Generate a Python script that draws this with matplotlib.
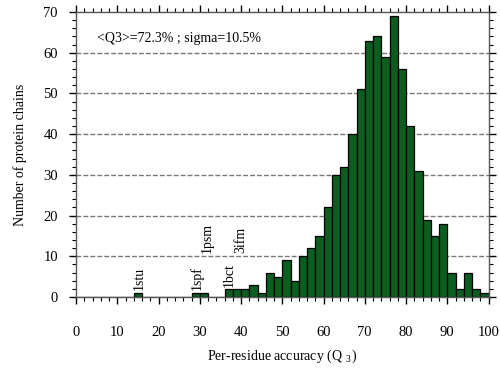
import matplotlib
matplotlib.use("Agg")
import matplotlib.pyplot as plt
import numpy as np

plt.rcParams['font.family'] = ['Liberation Serif', 'DejaVu Serif']
plt.rcParams['mathtext.fontset'] = 'custom'
plt.rcParams['mathtext.rm'] = 'Liberation Serif'
plt.rcParams['mathtext.it'] = 'Liberation Serif:italic'

# Histogram bins (left edges, width 2) and counts
bin_lefts = list(range(0, 100, 2))
counts = [0, 0, 0, 0, 0, 0, 0, 1, 0, 0,
          0, 0, 0, 0, 1, 1, 0, 0, 2, 2,
          2, 3, 1, 6, 5, 9, 4, 10, 12, 15,
          22, 30, 32, 40, 51, 63, 64, 59, 69, 56,
          42, 31, 19, 15, 18, 6, 2, 6, 2, 1]

# Labelled outlier chains: (name, x, y)
label_names = ['1stu', '1spf', '1psm', '1bct', '3ifm']
label_x = [15.3, 29.2, 31.8, 37.2, 40.0]
label_y = [1.7, 1.7, 10.7, 2.4, 10.7]

x_ticks = list(range(0, 101, 10))
y_ticks = list(range(0, 71, 10))
grid_levels = [10, 20, 30, 40, 50, 60]
stats_text = '<Q3>=72.3% ; sigma=10.5%'

fig = plt.figure(figsize=(5.0, 3.71), dpi=100)
ax = fig.add_axes([0.152, 0.1995, 0.825, 0.768])

for g in grid_levels:
    ax.axhline(g, color='#777777', lw=1.0, ls=(0, (3.5, 1.5)), zorder=1)

ax.bar(bin_lefts, counts, width=2, align='edge', color='#0b5e1e',
       edgecolor='black', linewidth=0.9, zorder=2)

for n, x, y in zip(label_names, label_x, label_y):
    ax.text(x, y, n, rotation=90, ha='center', va='bottom', fontsize=10, zorder=3)

ax.text(5.0, 63.5, stats_text, fontsize=10, ha='left', va='center')

ax.set_xlim(0, 100)
ax.set_ylim(0, 70)
ax.set_xticks(x_ticks)
ax.set_yticks(y_ticks)
ax.set_xticks(np.arange(0, 101, 2), minor=True)
ax.set_yticks(np.arange(0, 71, 2), minor=True)

for s in ax.spines.values():
    s.set_color('#555555')
    s.set_linewidth(1.0)

ax.tick_params(axis='both', which='both', top=True, right=True,
               direction='out', colors='black', labelsize=10.5)
ax.tick_params(axis='x', which='major', length=5, width=1.0, pad=16)
ax.tick_params(axis='x', which='minor', length=3, width=0.8)
ax.tick_params(axis='y', which='major', length=5, width=1.0, pad=8)
ax.tick_params(axis='y', which='minor', length=3, width=0.8)

ax.set_xlabel('Per-residue accuracy (Q$_{\\ \\ 3}$)', fontsize=10, labelpad=6)
ax.set_ylabel('Number of protein chains', fontsize=10, labelpad=12)

fig.savefig('out.png', dpi=100)
